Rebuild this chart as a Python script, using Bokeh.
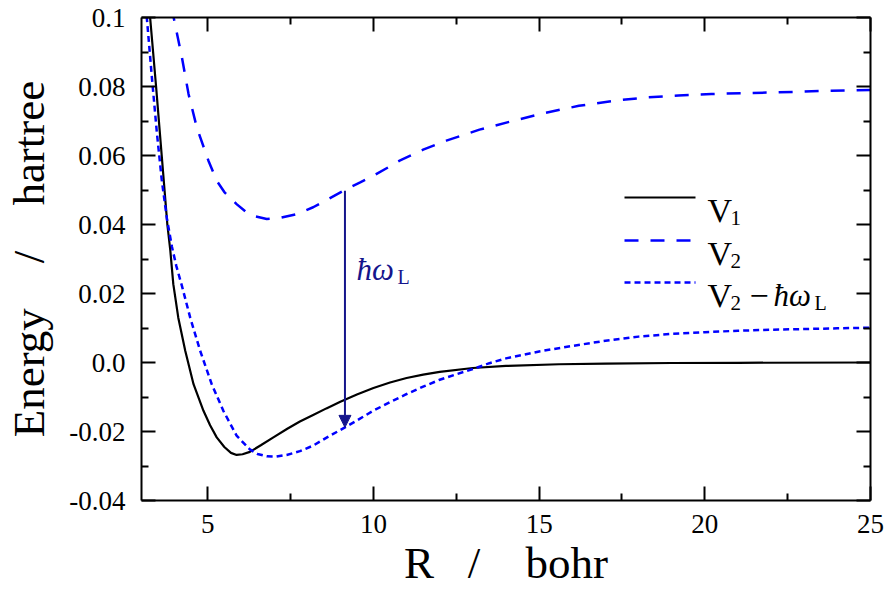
from bokeh.plotting import figure
from bokeh.models import (Range1d, LinearAxis, FixedTicker, CustomJSTickFormatter,
                          Label, Arrow, NormalHead)
from bokeh.embed import file_html
from bokeh.resources import INLINE

# ---------------- data ----------------
R1 = [3.20, 3.26, 3.44, 3.61, 3.78, 3.87, 3.96, 4.11, 4.32, 4.57, 4.87, 5.07, 5.27,
      5.50, 5.70, 5.87, 6.05, 6.27, 6.60, 6.98, 7.40, 7.78, 8.18, 8.58, 9.00, 9.50,
      10.0, 10.5, 11.0, 11.5, 12.0, 13.0, 14.0, 15.6, 17.0, 19.0, 21.0, 25.0]
V1 = [0.107, 0.100, 0.080, 0.060, 0.040, 0.0324, 0.0227, 0.0130, 0.0034, -0.0063,
      -0.0140, -0.0182, -0.0217, -0.0245, -0.0262, -0.0268, -0.0266, -0.0259, -0.0240,
      -0.0217, -0.0192, -0.0171, -0.0152, -0.0133, -0.0114, -0.0093, -0.0074, -0.0058,
      -0.0045, -0.0035, -0.0027, -0.0016, -0.0010, -0.0005, -0.0003, -0.00015,
      -0.00008, 0.0]

R2 = [3.90, 3.97, 4.22, 4.42, 4.67, 5.02, 5.27, 5.50, 5.87, 6.17, 6.45, 6.78, 7.18,
      7.68, 8.18, 8.60, 9.19, 9.60, 9.99, 10.49, 10.79, 11.5, 12.2, 13.2, 14.2, 15.2,
      16.2, 17.2, 18.2, 19.2, 20.2, 21.2, 22.2, 23.5, 25.0]
V2 = [0.103, 0.100, 0.0884, 0.0778, 0.0681, 0.0585, 0.0527, 0.0494, 0.0459, 0.0435,
      0.0423, 0.0416, 0.0419, 0.0430, 0.0450, 0.0472, 0.0503, 0.0522, 0.0541, 0.0568,
      0.0585, 0.0617, 0.0643, 0.0675, 0.0700, 0.0724, 0.0744, 0.0758, 0.0768, 0.0774,
      0.0778, 0.0781, 0.0783, 0.0787, 0.0790]

R3 = [3.10, 3.16, 3.31, 3.46, 3.61, 3.77, 3.92, 4.05, 4.22, 4.47, 4.77, 5.12, 5.47,
      5.87, 6.27, 6.50, 6.78, 7.05, 7.38, 7.78, 8.18, 8.60, 9.14, 9.50, 9.99, 10.5,
      10.99, 11.5, 12.0, 12.5, 13.0, 13.5, 14.0, 15.0, 16.0, 17.0, 18.0, 19.0, 20.0,
      21.0, 22.0, 23.0, 24.0, 25.0]
V2_minus_hw = [0.112, 0.100, 0.083, 0.067, 0.053, 0.0415, 0.0335, 0.0280, 0.0222,
               0.0130, 0.0034, -0.0063, -0.0140, -0.0212, -0.0252, -0.0265, -0.0272,
               -0.0273, -0.0268, -0.0257, -0.0241, -0.0217, -0.0188, -0.0168, -0.0140,
               -0.0115, -0.0092, -0.0070, -0.0050, -0.0034, -0.0019, -0.0002, 0.0012,
               0.0032, 0.0048, 0.0063, 0.0075, 0.0083, 0.0088, 0.0092, 0.0095, 0.0097,
               0.0099, 0.0101]

arrow_R = 9.14
arrow_top = 0.0498
arrow_bottom = -0.0188

x_ticks = [5, 10, 15, 20, 25]
x_tick_labels = ["5", "10", "15", "20", "25"]
x_minor = [7.5, 12.5, 17.5, 22.5]
y_ticks = [-0.04, -0.02, 0.0, 0.02, 0.04, 0.06, 0.08, 0.1]
y_tick_labels = ["-0.04", "-0.02", "0.0", "0.02", "0.04", "0.06", "0.08", "0.1"]
y_minor = [-0.03, -0.01, 0.01, 0.03, 0.05, 0.07, 0.09]

legend_labels = ["V", "V", "V"]
NB = "\u00a0"
x_title = "R" + NB * 3 + "/" + NB * 4 + "bohr"
y_title = "Energy" + NB * 4 + "/" + NB * 4 + "hartree"

# ---------------- layout ----------------
W, H = 891, 595
FL, FR, FT, FB = 141, 870, 17, 500
X0, X1, Y0, Y1 = 3.0, 25.0, -0.04, 0.1


def dx(px):
    return X0 + (px - FL) / (FR - FL) * (X1 - X0)


def dy(py):
    return Y1 - (py - FT) / (FB - FT) * (Y1 - Y0)


SERIF = "Liberation Serif"
BLUE = "#0000ff"
NAVY = "#15158c"

p = figure(width=W, height=H, x_range=Range1d(X0, X1), y_range=Range1d(Y0, Y1),
           output_backend="svg", toolbar_location=None,
           min_border_left=FL, min_border_right=W - FR,
           min_border_top=FT, min_border_bottom=H - FB)
p.grid.visible = False
p.outline_line_color = None
p.background_fill_color = "white"
p.border_fill_color = "white"

p.add_layout(LinearAxis(), "above")
p.add_layout(LinearAxis(), "right")


def fmt(tvals, tlabels):
    return CustomJSTickFormatter(args=dict(tvals=tvals, tlabels=tlabels), code="""
        let best = 0, d = Infinity;
        for (let i = 0; i < tvals.length; i++) {
            const e = Math.abs(tvals[i] - tick);
            if (e < d) { d = e; best = i; }
        }
        return tlabels[best];
    """)


blank = CustomJSTickFormatter(code="return '';")

for ax in p.xaxis:
    ax.ticker = FixedTicker(ticks=x_ticks, minor_ticks=x_minor)
for ax in p.yaxis:
    ax.ticker = FixedTicker(ticks=y_ticks, minor_ticks=y_minor)

for ax in list(p.xaxis) + list(p.yaxis):
    ax.axis_line_width = 2
    ax.axis_line_color = "black"
    ax.major_tick_in = 14
    ax.major_tick_out = 0
    ax.minor_tick_in = 7
    ax.minor_tick_out = 0
    ax.major_tick_line_width = 2
    ax.minor_tick_line_width = 2
    ax.major_tick_line_color = "black"
    ax.minor_tick_line_color = "black"
    ax.major_label_text_font = SERIF
    ax.major_label_text_font_size = "27px"
    ax.major_label_text_color = "black"
    ax.axis_label_text_font = SERIF
    ax.axis_label_text_font_style = "normal"
    ax.axis_label_text_font_size = "45px"
    ax.axis_label_text_color = "black"

bx, ly = p.below[0], p.left[0]
bx.formatter = fmt(x_ticks, x_tick_labels)
ly.formatter = fmt(y_ticks, y_tick_labels)
bx.major_label_standoff = 14
ly.major_label_standoff = 16
bx.axis_label = x_title
ly.axis_label = y_title
bx.axis_label_standoff = 2
ly.axis_label_standoff = 12

for ax in (p.above[0], p.right[0]):
    ax.formatter = blank
    ax.major_label_text_font_size = "1px"
    ax.major_label_standoff = 0

# ---------------- curves ----------------
p.line(R1, V1, line_color="black", line_width=2.2)
p.line(R2, V2, line_color=BLUE, line_width=2.5, line_dash="14 12")
p.line(R3, V2_minus_hw, line_color=BLUE, line_width=2.5, line_dash="6 4")

# ---------------- arrow ----------------
p.add_layout(Arrow(x_start=arrow_R, y_start=arrow_top, x_end=arrow_R, y_end=arrow_bottom,
                   line_color=NAVY, line_width=2,
                   end=NormalHead(size=12, fill_color=NAVY, line_color=NAVY, line_width=1)))

p.add_layout(Label(x=dx(356), y=dy(269), text="ħω", text_font=SERIF, text_font_style="italic",
                   text_font_size="31px", text_color=NAVY, text_baseline="alphabetic"))
p.add_layout(Label(x=dx(397), y=dy(276), text="L", text_font=SERIF,
                   text_font_size="20px", text_color=NAVY, text_baseline="alphabetic"))

# ---------------- legend ----------------
leg_rows = [197, 240, 282]
styles = [dict(line_color="black", line_width=2.2),
          dict(line_color=BLUE, line_width=2.5, line_dash="14 12"),
          dict(line_color=BLUE, line_width=2.5, line_dash="6 4")]
for row, st, lab in zip(leg_rows, styles, legend_labels):
    p.line([dx(624), dx(695)], [dy(row), dy(row)], **st)
    p.add_layout(Label(x=dx(707), y=dy(row + 13), text=lab, text_font=SERIF,
                       text_font_size="34px", text_color="black", text_baseline="alphabetic"))

subs = ["1", "2", "2"]
for row, s in zip(leg_rows, subs):
    p.add_layout(Label(x=dx(730), y=dy(row + 20), text=s, text_font=SERIF,
                       text_font_size="21px", text_color="black", text_baseline="alphabetic"))
r3 = leg_rows[2]
p.add_layout(Label(x=dx(749), y=dy(r3 + 13), text="−", text_font=SERIF,
                   text_font_size="34px", text_color="black", text_baseline="alphabetic"))
p.add_layout(Label(x=dx(773), y=dy(r3 + 13), text="ħω", text_font=SERIF, text_font_style="italic",
                   text_font_size="31px", text_color="black", text_baseline="alphabetic"))
p.add_layout(Label(x=dx(814), y=dy(r3 + 20), text="L", text_font=SERIF,
                   text_font_size="20px", text_color="black", text_baseline="alphabetic"))

open("out.html", "w").write(file_html(p, INLINE))
